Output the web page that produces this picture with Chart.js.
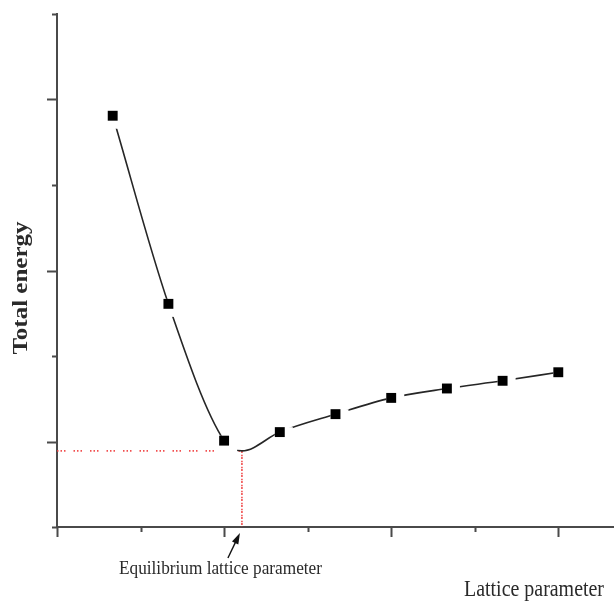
<!DOCTYPE html>
<html lang="en">
<head>
  <meta charset="UTF-8" />
  <title>Total energy vs lattice parameter</title>
  <style>
    body { margin: 0; background: #fff; }
    #chart { display: block; }
  </style>
</head>
<body>
  <canvas id="chart" width="614" height="601"></canvas>

  <script src="https://cdn.jsdelivr.net/npm/chart.js"></script>
  <script>
    // Computed points (arbitrary units on both axes)
    const latticeSteps = [1, 2, 3, 4, 5, 6, 7, 8, 9];
    const totalEnergy = [4.81, 2.61, 1.01, 1.11, 1.32, 1.51, 1.62, 1.71, 1.81];

    // Minimum of the fitted curve
    const eqLattice = 3.32;
    const eqEnergy = 0.89;

    // Tick marks (no labels)
    const xMajorTicks = [0, 3, 6, 9];
    const xMinorTicks = [1.5, 4.5, 7.5];
    const yMajorTicks = [1, 3, 5];
    const yMinorTicks = [0, 2, 4, 6];

    const axisColor = '#4a4a4a';
    const textColor = '#2a2a2a';

    const points = latticeSteps.map((x, i) => ({ x, y: totalEnergy[i] }));
    const curvePoints = points.concat([{ x: eqLattice, y: eqEnergy }]).sort((a, b) => a.x - b.x);

    // white patch put behind each marker so the curve breaks around it
    const halo = document.createElement('canvas');
    halo.width = 30;
    halo.height = 30;
    const hctx = halo.getContext('2d');
    hctx.fillStyle = '#fff';
    hctx.fillRect(10, 10, 18, 18);

    // tick marks of two lengths, outside the axes
    const tickMarks = {
      id: 'tickMarks',
      afterDraw(chart) {
        const { ctx, scales: { x, y } } = chart;
        ctx.save();
        ctx.strokeStyle = axisColor;
        ctx.lineWidth = 2;
        ctx.beginPath();
        const xTick = (v, len) => {
          const px = Math.round(x.getPixelForValue(v)) + 0.5;
          ctx.moveTo(px, y.bottom);
          ctx.lineTo(px, y.bottom + len);
        };
        const yTick = (v, len) => {
          const py = Math.round(y.getPixelForValue(v)) + 0.5;
          ctx.moveTo(x.left, py);
          ctx.lineTo(x.left - len, py);
        };
        xMajorTicks.forEach(v => xTick(v, 10));
        xMinorTicks.forEach(v => xTick(v, 5));
        yMajorTicks.forEach(v => yTick(v, 10));
        yMinorTicks.forEach(v => yTick(v, 5));
        ctx.stroke();
        ctx.restore();
      }
    };

    // axis titles and the arrow note under the x axis
    const notes = {
      id: 'notes',
      afterDraw(chart) {
        const { ctx, scales: { x, y } } = chart;
        ctx.save();
        ctx.fillStyle = textColor;
        ctx.strokeStyle = '#111';

        // Total energy (vertical, bold)
        ctx.save();
        ctx.translate(27, 288);
        ctx.scale(0.82, 1);
        ctx.rotate(-Math.PI / 2);
        ctx.font = 'bold 25px "Liberation Serif", "Times New Roman", serif';
        ctx.textAlign = 'center';
        ctx.textBaseline = 'alphabetic';
        ctx.fillText('Total energy', 0, 0);
        ctx.restore();

        ctx.textAlign = 'left';
        ctx.textBaseline = 'alphabetic';
        ctx.font = '24px "Liberation Serif", "Times New Roman", serif';
        ctx.fillText('Lattice parameter', 464, 596, 140);

        ctx.font = '19px "Liberation Serif", "Times New Roman", serif';
        ctx.fillText('Equilibrium lattice parameter', 119, 574, 203);

        // arrow pointing at the equilibrium value on the x axis
        const tipX = x.getPixelForValue(eqLattice) - 2;
        const tipY = y.bottom + 6;
        const tailX = tipX - 12;
        const tailY = tipY + 25;
        const ang = Math.atan2(tipY - tailY, tipX - tailX);
        ctx.lineWidth = 1.4;
        ctx.beginPath();
        ctx.moveTo(tailX, tailY);
        ctx.lineTo(tipX - 6 * Math.cos(ang), tipY - 6 * Math.sin(ang));
        ctx.stroke();
        ctx.fillStyle = '#111';
        ctx.beginPath();
        ctx.moveTo(tipX, tipY);
        ctx.lineTo(tipX - 11 * Math.cos(ang) + 3.5 * Math.sin(ang), tipY - 11 * Math.sin(ang) - 3.5 * Math.cos(ang));
        ctx.lineTo(tipX - 11 * Math.cos(ang) - 3.5 * Math.sin(ang), tipY - 11 * Math.sin(ang) + 3.5 * Math.cos(ang));
        ctx.closePath();
        ctx.fill();
        ctx.restore();
      }
    };

    new Chart(document.getElementById('chart'), {
      type: 'line',
      data: {
        datasets: [
          {
            label: 'Total energy',
            data: points,
            showLine: false,
            pointStyle: 'rect',
            pointRadius: 7,
            pointBackgroundColor: '#000',
            pointBorderWidth: 0
          },
          {
            label: 'gap',
            data: points,
            showLine: false,
            pointStyle: halo,
            pointRadius: 10
          },
          {
            label: 'fit',
            data: curvePoints,
            borderColor: '#262626',
            borderWidth: 1.6,
            cubicInterpolationMode: 'monotone',
            pointRadius: 0
          },
          {
            label: 'equilibrium',
            data: [
              { x: 0, y: eqEnergy },
              { x: eqLattice, y: eqEnergy },
              { x: eqLattice, y: 0 }
            ],
            borderColor: 'rgba(240, 60, 60, 0.9)',
            borderWidth: 1.6,
            pointRadius: 0,
            tension: 0,
            segment: {
              borderDash: c => c.p0DataIndex === 0 ? [1.5, 2, 1.5, 2, 1.5, 8] : [1.5, 4.5]
            }
          }
        ]
      },
      options: {
        responsive: false,
        animation: false,
        events: [],
        layout: { autoPadding: false, padding: { left: 57, top: 14, right: 0, bottom: 74 } },
        plugins: {
          legend: { display: false },
          tooltip: { enabled: false }
        },
        scales: {
          x: {
            type: 'linear',
            min: 0,
            max: 10,
            grid: { drawOnChartArea: false, drawTicks: false },
            ticks: { display: false },
            border: { color: axisColor, width: 2 },
            afterFit: s => { s.height = 0; }
          },
          y: {
            type: 'linear',
            min: 0,
            max: 6,
            grid: { drawOnChartArea: false, drawTicks: false },
            ticks: { display: false },
            border: { color: axisColor, width: 2 },
            afterFit: s => { s.width = 0; }
          }
        }
      },
      plugins: [tickMarks, notes]
    });
  </script>
</body>
</html>
